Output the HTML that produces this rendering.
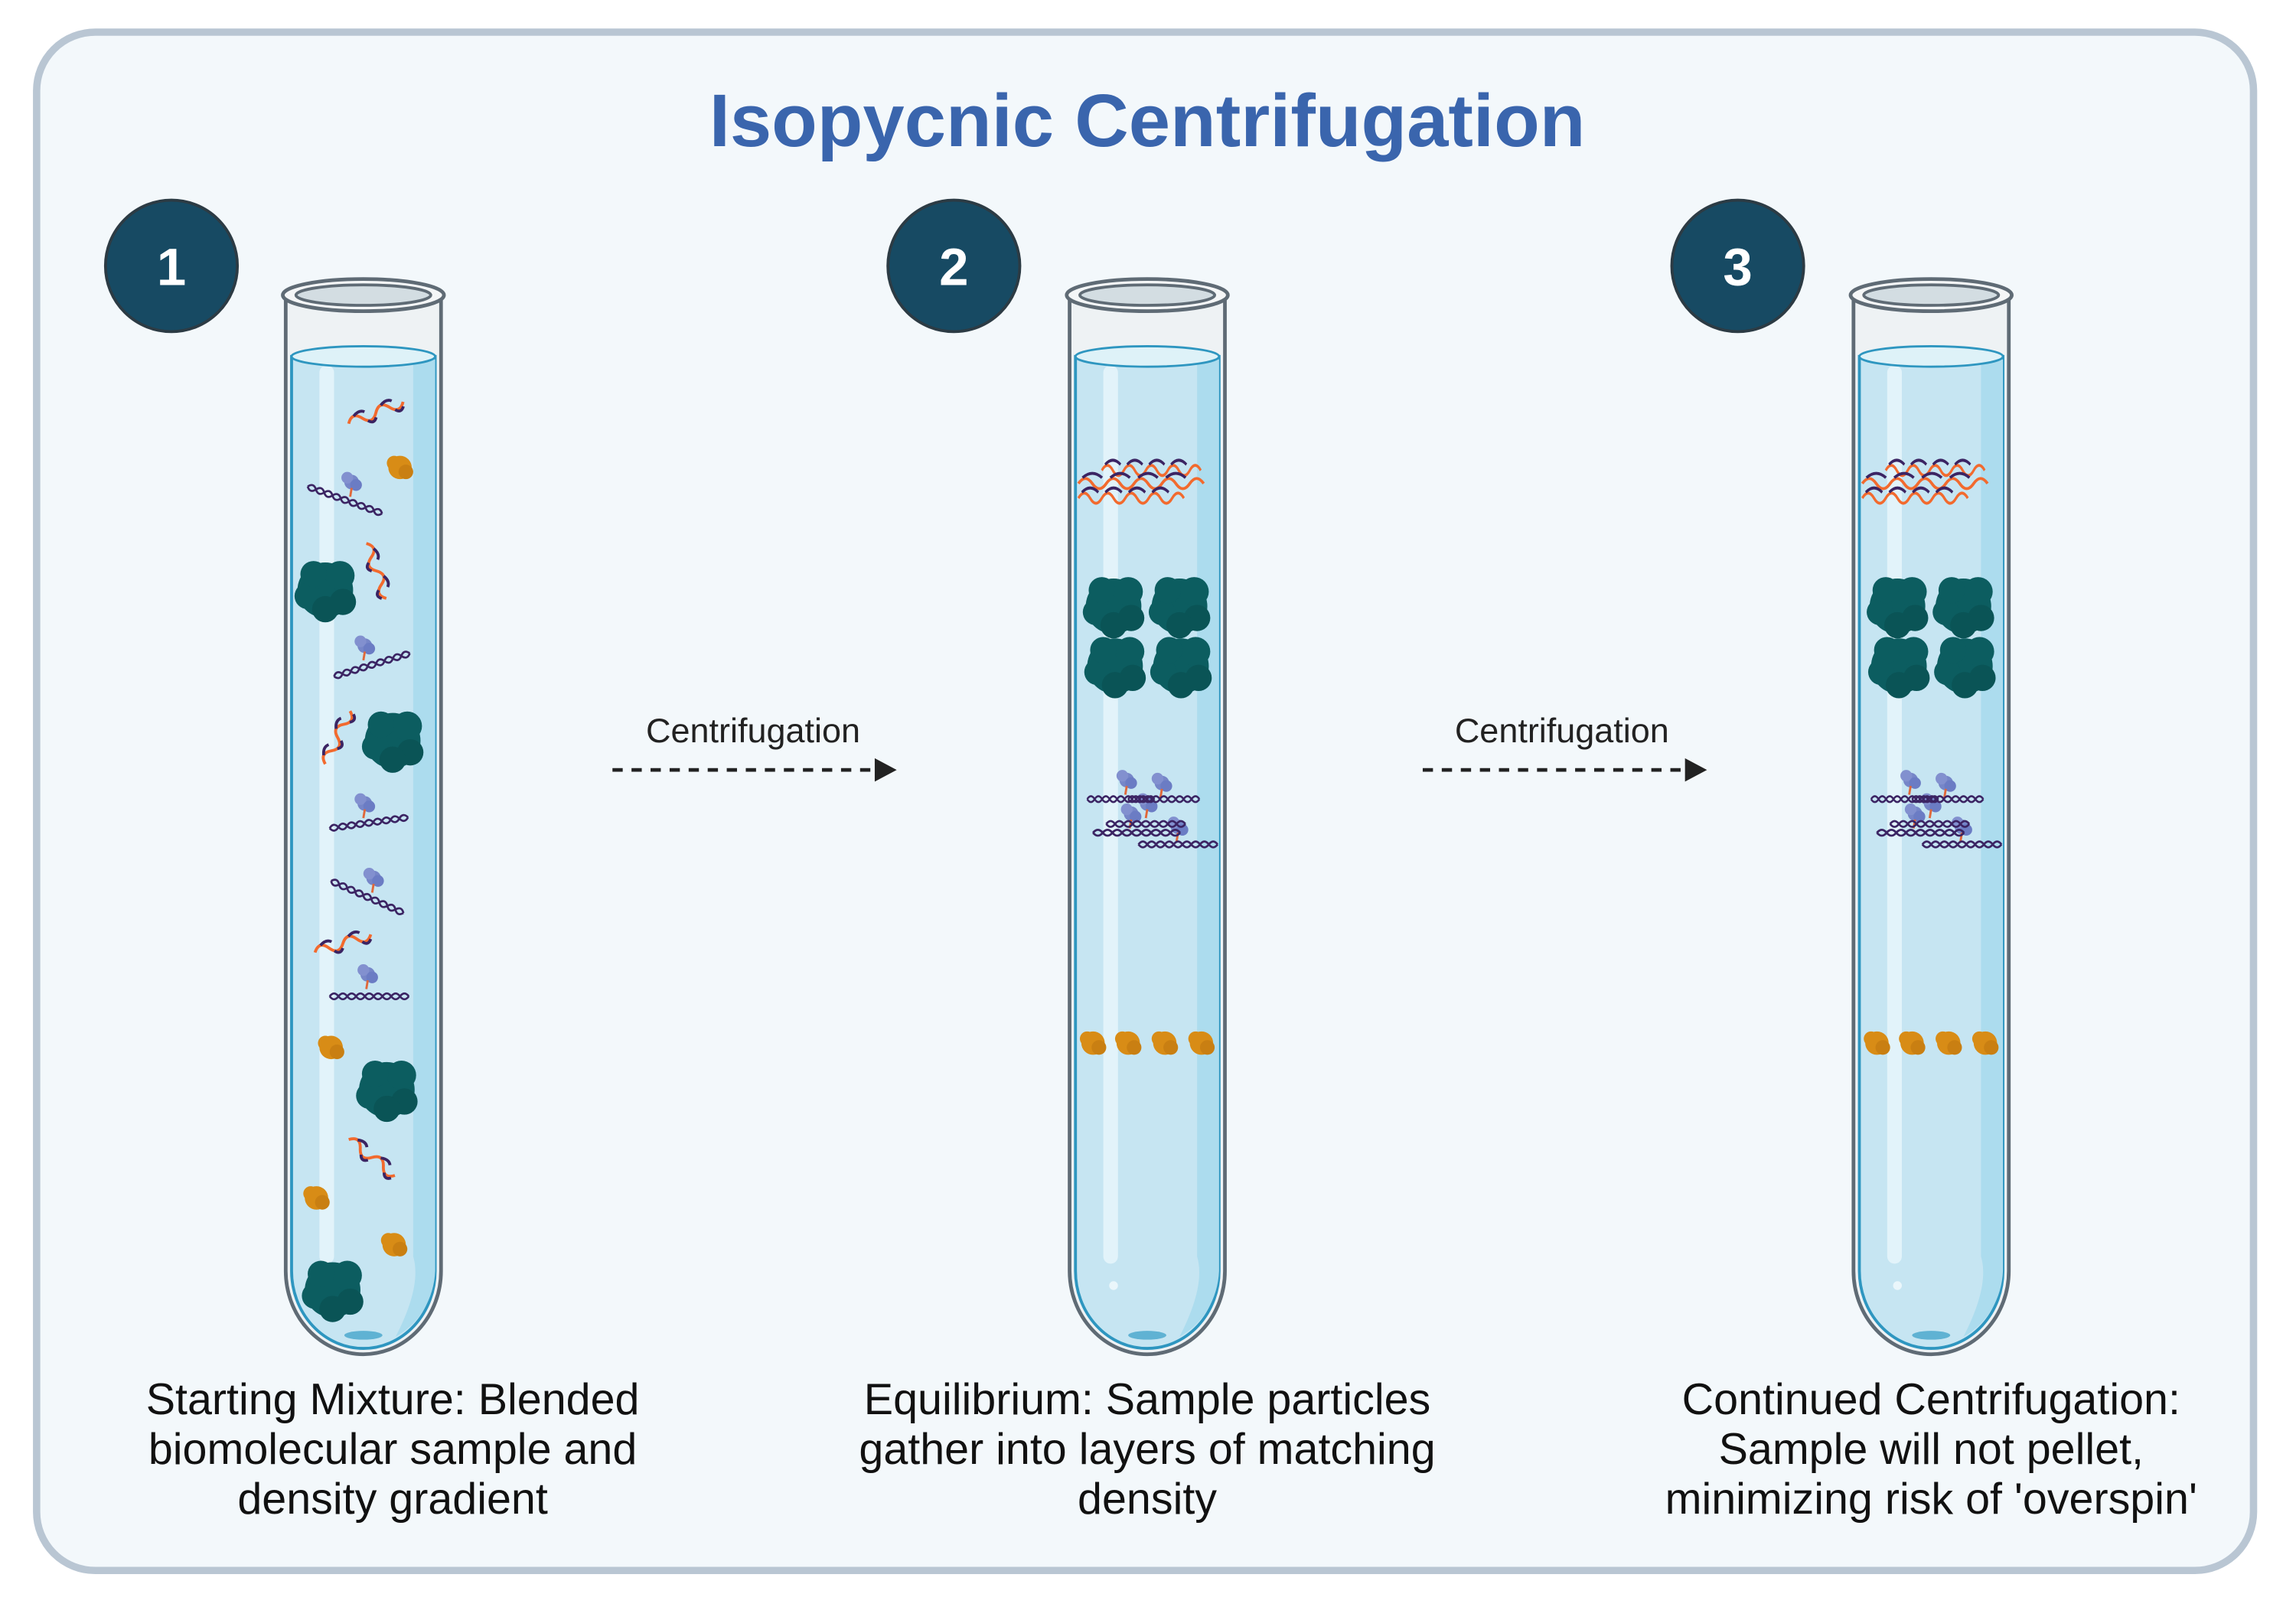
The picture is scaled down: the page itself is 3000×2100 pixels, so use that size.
<!DOCTYPE html>
<html><head><meta charset="utf-8"><style>html,body{margin:0;padding:0;background:#fff}svg{display:block}</style></head><body>
<svg width="3000" height="2100" viewBox="0 0 1567 1100" preserveAspectRatio="none" xmlns="http://www.w3.org/2000/svg" font-family="'Liberation Sans', sans-serif">
<defs>
<g id="tube">
  <path d="M195,205 L195,870 A53,57 0 0 0 301,870 L301,205" fill="#eef2f4" stroke="#5f6b75" stroke-width="2.5"/>
  <path d="M199,244 L199,870 A49,53 0 0 0 297,870 L297,244 Z" fill="#c6e5f2" stroke="#2e96c0" stroke-width="2"/>
  <path d="M282,246 L297,246 L297,870 A49,53 0 0 1 270,915 Q288,880 282,860 Z" fill="#acdcee"/>
  <rect x="218" y="250" width="10" height="615" rx="5" fill="#e2f3fa"/>
  <ellipse cx="248" cy="244" rx="49" ry="7" fill="#def2f8" stroke="#2e96c0" stroke-width="1.5"/>
  <ellipse cx="248" cy="914" rx="13" ry="3" fill="#5fb2d3"/>
  <circle cx="225" cy="880" r="3" fill="#eaf6fb"/>
  <ellipse cx="248" cy="202" rx="55" ry="11" fill="#f4f6f7" stroke="#5f6b75" stroke-width="2.5"/>
  <ellipse cx="248" cy="202" rx="46" ry="7" fill="#d3dde2" stroke="#5f6b75" stroke-width="2"/>
</g>
<g id="teal"><circle r="19" fill="#0c5d60"/><circle cx="-12" cy="4" r="9" fill="#0c5d60"/><circle cx="10" cy="-10" r="10" fill="#0c5d60"/><circle cx="12" cy="8" r="9" fill="#0a5456"/><circle cx="-8" cy="-11" r="9" fill="#0c5d60"/><circle cx="0" cy="13" r="9" fill="#0a5456"/></g>
<g id="orange"><circle r="8" fill="#d88c16"/><circle cx="-4" cy="-3" r="5" fill="#d88c16"/><circle cx="4" cy="3" r="5" fill="#c97f12"/></g>
<g id="prot"><circle r="5" fill="#7686c8"/><circle cx="-3" cy="-3" r="4" fill="#8290cf"/><circle cx="3" cy="2" r="4" fill="#6b7cc4"/><line x1="0" y1="4" x2="-1" y2="10" stroke="#e0683a" stroke-width="1.5"/></g>
<g id="dna" fill="none" stroke="#3b2463" stroke-width="1.4"><path d="M0,0 q3,-4 6,0 t6,0 t6,0 t6,0 t6,0 t6,0 t6,0 t6,0 t6,0"/><path d="M0,0 q3,4 6,0 t6,0 t6,0 t6,0 t6,0 t6,0 t6,0 t6,0 t6,0"/></g>
<g id="rna" fill="none" stroke-width="2"><path d="M0,0 q5,-7 10,0 t10,0 t10,0 t10,0" stroke="#f26a2e"/><path d="M5,-3.5 q5,-3 8,0 M25,-3.5 q5,-3 8,0 M13,3 q3,4 6,0 M33,3 q3,4 6,0" stroke="#3b2463"/></g>
<g id="rnarow" fill="none" stroke-width="2"><path d="M0,0 q5,-7 10,0 t10,0 t10,0 t10,0 t10,0 t10,0 t10,0 t10,0 t10,0" stroke="#f26a2e"/><path d="M3,-4 q7,-6 14,0 M23,-4 q7,-6 14,0 M43,-4 q7,-6 14,0 M63,-4 q7,-6 14,0" stroke="#3b2463"/></g>
<g id="layers">
  <use href="#rnarow" transform="translate(752,322) scale(0.75,1)"/>
  <use href="#rnarow" transform="translate(736,331) scale(0.95,1)"/>
  <use href="#rnarow" transform="translate(736,341) scale(0.8,1)"/>
  <use href="#teal" transform="translate(760,415)"/><use href="#teal" transform="translate(805,415)"/>
  <use href="#teal" transform="translate(761,456)"/><use href="#teal" transform="translate(806,456)"/>
  <use href="#prot" transform="translate(769,534)"/><use href="#prot" transform="translate(793,536)"/>
  <use href="#prot" transform="translate(783,550)"/><use href="#prot" transform="translate(772,557)"/><use href="#prot" transform="translate(804,566)"/>
  <use href="#dna" transform="translate(742,547) scale(0.85,1)"/><use href="#dna" transform="translate(770,547) scale(0.9,1)"/>
  <use href="#dna" transform="translate(755,564)"/><use href="#dna" transform="translate(746,570) scale(1.1,1)"/>
  <use href="#dna" transform="translate(777,578) scale(1.0,1)"/>
  <use href="#orange" transform="translate(746,714)"/><use href="#orange" transform="translate(770,714)"/>
  <use href="#orange" transform="translate(795,714)"/><use href="#orange" transform="translate(820,714)"/>
</g>
</defs>
<rect x="25" y="22" width="1513" height="1053" rx="40" fill="#f3f8fb" stroke="#b9c6d3" stroke-width="5"/>
<text x="783" y="100" text-anchor="middle" font-size="51" font-weight="bold" fill="#3a65ad">Isopycnic Centrifugation</text>
<g fill="#174a63" stroke="#2c3b44" stroke-width="2">
<circle cx="117" cy="182" r="45"/><circle cx="651" cy="182" r="45"/><circle cx="1186" cy="182" r="45"/></g>
<g fill="#fff" font-size="36" font-weight="bold" text-anchor="middle">
<text x="117" y="195">1</text><text x="651" y="195">2</text><text x="1186" y="195">3</text></g>
<use href="#tube"/>
<use href="#tube" transform="translate(535,0)"/>
<use href="#tube" transform="translate(1070,0)"/>
<use href="#rna" transform="translate(238,290) rotate(-22)"/>
<use href="#orange" transform="translate(273,320)"/>
<use href="#prot" transform="translate(240,330)"/>
<use href="#dna" transform="translate(210,333) rotate(20)"/>
<use href="#teal" transform="translate(222,404)"/>
<use href="#rna" transform="translate(250,372) rotate(70)"/>
<use href="#prot" transform="translate(249,442)"/>
<use href="#dna" transform="translate(228,463) rotate(-17)"/>
<use href="#rna" transform="translate(222,523) rotate(-65)"/>
<use href="#teal" transform="translate(268,507)"/>
<use href="#prot" transform="translate(249,550)"/>
<use href="#dna" transform="translate(225,567) rotate(-8)"/>
<use href="#prot" transform="translate(255,601)"/>
<use href="#dna" transform="translate(226,603) rotate(24)"/>
<use href="#rna" transform="translate(215,652) rotate(-18)"/>
<use href="#prot" transform="translate(251,667)"/>
<use href="#dna" transform="translate(225,682)"/>
<use href="#orange" transform="translate(226,717)"/>
<use href="#teal" transform="translate(264,746)"/>
<use href="#rna" transform="translate(238,780) rotate(38)"/>
<use href="#orange" transform="translate(216,820)"/>
<use href="#orange" transform="translate(269,852)"/>
<use href="#teal" transform="translate(227,883)"/>
<use href="#layers"/>
<use href="#layers" transform="translate(535,0)"/>
<g stroke="#222" stroke-width="2.5" stroke-dasharray="7,6">
<line x1="418" y1="527" x2="598" y2="527"/><line x1="971" y1="527" x2="1151" y2="527"/></g>
<path d="M597,519 L612,527 L597,535 Z M1150,519 L1165,527 L1150,535 Z" fill="#222"/>
<g font-size="23.5" fill="#222" text-anchor="middle">
<text x="514" y="508">Centrifugation</text><text x="1066" y="508">Centrifugation</text></g>
<g font-size="30" fill="#111" text-anchor="middle">
<text x="268" y="968">Starting Mixture: Blended</text>
<text x="268" y="1002">biomolecular sample and</text>
<text x="268" y="1036">density gradient</text>
<text x="783" y="968">Equilibrium: Sample particles</text>
<text x="783" y="1002">gather into layers of matching</text>
<text x="783" y="1036">density</text>
<text x="1318" y="968">Continued Centrifugation:</text>
<text x="1318" y="1002">Sample will not pellet,</text>
<text x="1318" y="1036">minimizing risk of 'overspin'</text>
</g>
</svg>
</body></html>
